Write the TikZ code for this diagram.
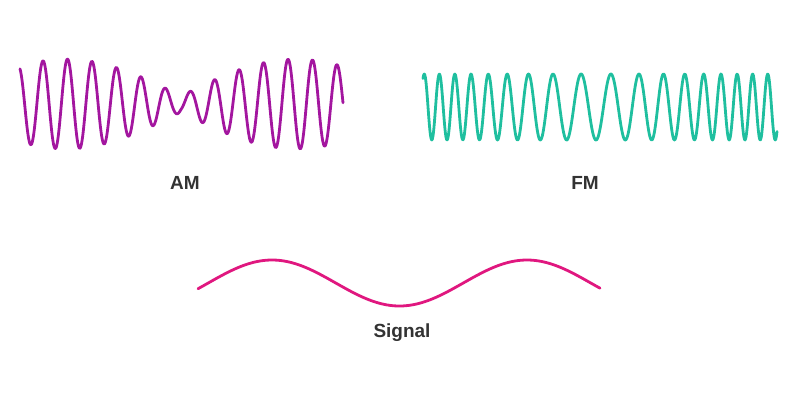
\documentclass[tikz,border=0pt]{standalone}
\usepackage{fontspec}
\setmainfont{Liberation Sans}
\usepackage{tikz}

\definecolor{amcol}{HTML}{A3169F}
\definecolor{fmcol}{HTML}{1FBF9F}
\definecolor{sigcol}{HTML}{E0177F}
\definecolor{labcol}{HTML}{333333}

\tikzset{
    wave/.style={line width=2.8pt, line join=round, line cap=round},
    wavelabel/.style={text=labcol, font=\fontsize{19}{22}\selectfont\bfseries}
}

\begin{document}
\begin{tikzpicture}[x=1pt, y=-1pt]
    \useasboundingbox (0,0) rectangle (800,400);

    % AM carrier with slow envelope
    \draw[wave, amcol] plot[domain=20:343, samples=500, smooth]
        ({\x}, {104 - (8 + 37*abs(sin((\x-181)/230*180)))*cos((\x-43)/24.5*360)});
    % FM carrier, slower in the middle
    \draw[wave, fmcol] plot[domain=423:777, samples=600, smooth]
        ({\x}, {107 + 33*cos((0.05*(\x-596) - 0.939*sin((\x-596)/354*360))*360)});
    % modulating signal
    \draw[wave, sigcol] plot[domain=198:600, samples=150, smooth]
        ({\x}, {283 - 23*cos((\x-272)/255*360)});

    \node[wavelabel] (am) at (185,183) {AM}; % AM label
    \node[wavelabel] (fm) at (585,183) {FM}; % FM label
    \node[wavelabel] (sig) at (402,333) {Signal}; % signal label
\end{tikzpicture}
\end{document}
